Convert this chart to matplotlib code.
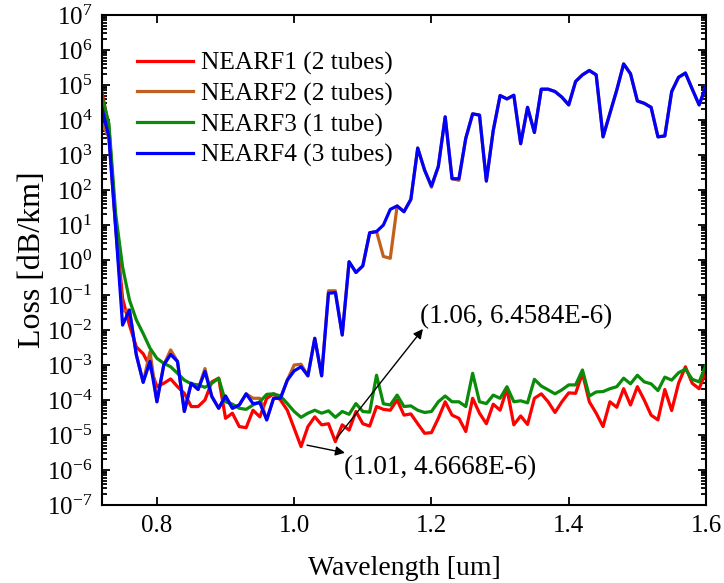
import numpy as np
import matplotlib
matplotlib.use("Agg")
import matplotlib.pyplot as plt

plt.rcParams['font.family'] = ['Liberation Serif', 'DejaVu Serif']
plt.rcParams['mathtext.fontset'] = 'custom'
plt.rcParams['mathtext.rm'] = 'Liberation Serif'
plt.rcParams['axes.unicode_minus'] = False

wavelength = np.round(np.arange(0.72, 1.6001, 0.01), 2)

nearf1 = [6.3e4, 6.3e3, 1.0e1, 7.9e-2, 1.38e-2, 3.3e-3, 2.1e-3, 8.9e-4, 2.4e-4, 3.0e-4,
          4.0e-4, 2.4e-4, 1.55e-4, 6.5e-5, 6.5e-5, 1.0e-4, 3.3e-4, 4.2e-4, 3.0e-5, 4.2e-5,
          1.74e-5, 1.62e-5, 5.1e-5, 3.3e-5, 1.12e-4, 1.5e-4, 1.0e-4, 5.1e-5, 1.55e-5, 4.6668e-6,
          1.74e-5, 3.3e-5, 1.95e-5, 2.1e-5, 6.4584e-6, 1.95e-5, 1.38e-5, 4.7e-5, 2.1e-5, 1.8e-5,
          6.5e-5, 5.4e-5, 5.1e-5, 1.0e-4, 3.7e-5, 4.0e-5, 2.1e-5, 1.12e-5, 1.17e-5, 3.0e-5,
          8.9e-5, 3.7e-5, 3.0e-5, 1.26e-5, 1.12e-4, 4.2e-5, 2.1e-5, 7.6e-5, 5.1e-5, 2.1e-4,
          1.95e-5, 3.5e-5, 2.0e-5, 1.12e-4, 1.5e-4, 8.9e-5, 4.4e-5, 8.9e-5, 1.6e-4, 1.55e-4,
          5.8e-4, 8.9e-5, 4.2e-5, 1.74e-5, 8.9e-5, 6.2e-5, 2.1e-4, 7.2e-5, 2.4e-4, 1.0e-4,
          3.7e-5, 2.7e-5, 2.0e-4, 5.0e-5, 3.0e-4, 8.9e-4, 3.0e-4, 2.1e-4, 6.5e-4]

nearf2 = [7.9e3, 3.2e3, 7.9e0, 3.5e-2, 3.7e-2, 1.95e-3, 3.2e-4, 2.4e-3, 8.9e-5, 1.0e-3,
          2.7e-3, 1.26e-3, 4.7e-5, 3.0e-4, 2.0e-4, 7.9e-4, 1.26e-4, 5.8e-5, 1.3e-4, 5.8e-5,
          7.2e-5, 1.5e-4, 1.12e-4, 1.12e-4, 2.7e-5, 1.12e-4, 1.12e-4, 3.7e-4, 1.0e-3, 1.05e-3,
          4.9e-4, 5.8e-3, 4.9e-4, 1.32e-1, 1.32e-1, 7.2e-3, 8.9e-1, 4.4e-1, 6.8e-1, 6.0e0,
          6.5e0, 1.26e0, 1.12e0, 3.5e1, 2.4e1, 5.4e1, 1.58e3, 3.7e2, 1.2e2, 4.7e2,
          1.23e4, 2.1e2, 1.9e2, 3.0e3, 1.5e4, 1.38e4, 1.8e2, 5.0e3, 5.0e4, 4.0e4,
          5.1e4, 2.1e3, 2.3e4, 4.4e3, 7.6e4, 7.6e4, 6.5e4, 4.5e4, 2.7e4, 1.26e5,
          1.95e5, 2.6e5, 1.95e5, 3.3e3, 1.55e4, 7.2e4, 4.0e5, 2.1e5, 3.5e4, 3.0e4,
          2.3e4, 3.3e3, 3.5e3, 6.5e4, 1.66e5, 2.2e5, 7.6e4, 2.7e4, 9.3e4]

nearf3 = [4.7e4, 7.9e3, 2.0e1, 6.3e-1, 7.2e-2, 1.95e-2, 7.9e-3, 3.0e-3, 1.55e-3, 1.12e-3,
          8.9e-4, 5.8e-4, 3.7e-4, 2.9e-4, 2.7e-4, 2.3e-4, 3.0e-4, 4.2e-4, 8.9e-5, 7.6e-5,
          5.8e-5, 5.4e-5, 7.2e-5, 8.9e-5, 1.45e-4, 1.5e-4, 1.3e-4, 7.9e-5, 4.7e-5, 3.2e-5,
          4.2e-5, 5.1e-5, 4.2e-5, 4.9e-5, 3.2e-5, 4.7e-5, 3.9e-5, 7.9e-5, 4.7e-5, 4.5e-5,
          5.1e-4, 7.8e-5, 7.2e-5, 1.38e-4, 6.5e-5, 6.8e-5, 5.1e-5, 4.4e-5, 4.7e-5, 8.9e-5,
          1.3e-4, 8.9e-5, 8.9e-5, 6.5e-5, 5.8e-4, 8.9e-5, 7.9e-5, 1.38e-4, 1.12e-4, 2.4e-4,
          8.9e-5, 9.5e-5, 8.3e-5, 3.9e-4, 2.5e-4, 1.95e-4, 1.5e-4, 1.95e-4, 2.7e-4, 2.7e-4,
          7.2e-4, 1.3e-4, 1.7e-4, 1.74e-4, 2.1e-4, 2.4e-4, 4.2e-4, 2.9e-4, 5.1e-4, 3.3e-4,
          2.9e-4, 1.86e-4, 4.5e-4, 3.7e-4, 6.0e-4, 7.6e-4, 3.9e-4, 3.3e-4, 1.0e-3]

nearf4 = [2.2e4, 3.3e3, 7.9e0, 1.38e-2, 3.7e-2, 1.95e-3, 3.2e-4, 1.26e-3, 8.9e-5, 1.0e-3,
          2.0e-3, 1.26e-3, 4.7e-5, 3.0e-4, 2.0e-4, 6.5e-4, 1.26e-4, 5.8e-5, 1.3e-4, 5.8e-5,
          7.2e-5, 1.5e-4, 7.9e-5, 8.3e-5, 2.7e-5, 1.12e-4, 1.12e-4, 3.7e-4, 6.8e-4, 8.9e-4,
          4.9e-4, 5.8e-3, 4.9e-4, 1.12e-1, 1.17e-1, 7.2e-3, 8.9e-1, 4.4e-1, 6.8e-1, 6.0e0,
          6.5e0, 1.0e1, 2.8e1, 3.5e1, 2.4e1, 5.4e1, 1.58e3, 3.7e2, 1.3e2, 4.7e2,
          1.23e4, 2.1e2, 2.1e2, 3.0e3, 1.5e4, 1.38e4, 1.8e2, 5.0e3, 5.0e4, 4.0e4,
          5.1e4, 2.1e3, 2.3e4, 4.4e3, 7.6e4, 7.6e4, 6.5e4, 4.5e4, 2.7e4, 1.26e5,
          1.95e5, 2.6e5, 1.95e5, 3.3e3, 1.55e4, 7.2e4, 4.0e5, 2.1e5, 3.5e4, 3.0e4,
          2.3e4, 3.3e3, 3.5e3, 6.5e4, 1.66e5, 2.2e5, 7.6e4, 2.7e4, 9.3e4]

labels = ["NEARF1 (2 tubes)", "NEARF2 (2 tubes)", "NEARF3 (1 tube)", "NEARF4 (3 tubes)"]
colors = ["#ff0000", "#c0601c", "#0a8c0a", "#0000ff"]

x_ticks = [0.8, 1.0, 1.2, 1.4, 1.6]

fig = plt.figure(figsize=(7.24, 5.83), dpi=100)
ax = fig.add_axes([102/724, 1-505/583, 604/724, 490/583])

for ys, lab, c in zip([nearf1, nearf2, nearf3, nearf4], labels, colors):
    ax.plot(wavelength, ys, color=c, lw=2.3, label=lab)

ax.set_yscale('log')
ax.set_xlim(0.72, 1.6)
ax.set_ylim(1e-7, 1e7)
ax.set_yticks([10.0**k for k in range(-7, 8)])
ax.yaxis.set_minor_locator(matplotlib.ticker.LogLocator(base=10, subs=np.arange(2, 10), numticks=100))
ax.yaxis.set_minor_formatter(matplotlib.ticker.NullFormatter())
ax.set_xticks(x_ticks)
ax.set_xticklabels([f"{v:.1f}" for v in x_ticks])

ax.tick_params(which='both', direction='in', top=True, right=True, width=1.3)
ax.tick_params(which='major', length=6, labelsize=18, pad=7)
ax.tick_params(which='minor', length=3.5)
for s in ax.spines.values():
    s.set_linewidth(1.5)

ax.set_xlabel("Wavelength [um]", fontsize=20, labelpad=14)
ax.set_ylabel("Loss [dB/km]", fontsize=23, labelpad=0)

leg = ax.legend(loc='upper left', bbox_to_anchor=(0.058, 0.925), frameon=False,
                fontsize=18.3, handlelength=2.2, handletextpad=0.3, labelspacing=0.3,
                borderpad=0, borderaxespad=0)

arrow_kw = dict(arrowstyle='-|>', color='black', lw=1.0, mutation_scale=14,
                shrinkA=0, shrinkB=0)
ax.annotate('', xy=(1.1876, 10**-1.97), xytext=(1.062, 10**-5.09), arrowprops=arrow_kw)
ax.text(1.184, 10**-1.63, "(1.06, 6.4584E-6)", fontsize=19.5, ha='left', va='center')
ax.annotate('', xy=(1.074, 10**-5.51), xytext=(1.0186, 10**-5.29), arrowprops=arrow_kw)
ax.text(1.072, 10**-5.94, "(1.01, 4.6668E-6)", fontsize=19.5, ha='left', va='center')

fig.savefig("out.png", dpi=100)
